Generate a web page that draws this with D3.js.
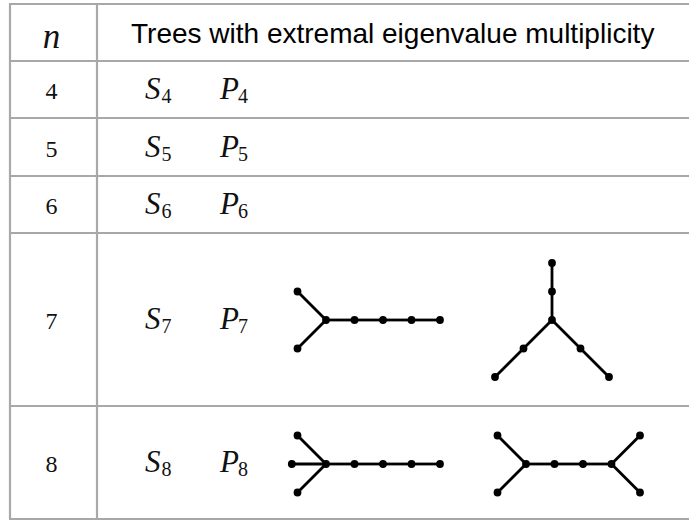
<!DOCTYPE html>
<html>
<head>
<meta charset="utf-8">
<style>
    body { margin: 0; background: #fff; }
    svg { display: block; }
    .grid { stroke: #a8a8a8; stroke-width: 2.2; }
    .num { font-family: 'Liberation Serif', 'Times New Roman', serif; font-size: 24px; fill: #111; }
    .math { font-family: 'Liberation Serif', 'Times New Roman', serif; font-style: italic; font-size: 31px; fill: #111; }
    .sub { font-style: normal; font-size: 20px; }
    .head { font-family: 'Liberation Sans', Arial, sans-serif; font-size: 28px; fill: #000; }
</style>
</head>
<body>
<svg width="689" height="521"></svg>
<script src="https://d3js.org/d3.v7.min.js"></script>
<script>
    // table content
    let orders = [4, 5, 6, 7, 8]
    let headerN = "n"
    let headerText = "Trees with extremal eigenvalue multiplicity"
    let named = ["S", "P"]

    // trees as drawings (node coords in edge-length units, first fork at 0,0)
    let trees = [
        {
            row: 7, at: 0,
            nodes: [[0, 0], [-1, -1], [-1, 1], [1, 0], [2, 0], [3, 0], [4, 0]],
            edges: [[0, 1], [0, 2], [0, 3], [3, 4], [4, 5], [5, 6]]
        },
        {
            row: 7, at: 1,
            nodes: [[0, 0], [0, -1], [0, -2], [-1, 1], [-2, 2], [1, 1], [2, 2]],
            edges: [[0, 1], [1, 2], [0, 3], [3, 4], [0, 5], [5, 6]]
        },
        {
            row: 8, at: 0,
            nodes: [[0, 0], [-1, -1], [-1.2, 0], [-1, 1], [1, 0], [2, 0], [3, 0], [4, 0]],
            edges: [[0, 1], [0, 2], [0, 3], [0, 4], [4, 5], [5, 6], [6, 7]]
        },
        {
            row: 8, at: 1,
            nodes: [[0, 0], [-1, -1], [-1, 1], [1, 0], [2, 0], [3, 0], [4, -1], [4, 1]],
            edges: [[0, 1], [0, 2], [0, 3], [3, 4], [4, 5], [5, 6], [5, 7]]
        }
    ]

    // layout
    let width = 689
    let colX = [10, 97]
    let rowY = [4, 61, 118, 176, 233, 406, 519]
    let unit = 28.5
    let slotX = { 7: [326, 552], 8: [326, 526] }   // x of the first fork in each slot

    let svg = d3.select("svg")

    let rowIndex = d3.scaleOrdinal()
        .domain(["head"].concat(orders))
        .range(d3.range(orders.length + 1))

    let midY = key => {
        let i = rowIndex(key)
        return (rowY[i] + rowY[i + 1]) / 2
    }

    // grid lines
    let grid = svg.append("g")
    grid.selectAll(".h")
        .data(rowY)
        .join("line")
        .attr("class", "grid")
        .attr("x1", colX[0] - 1)
        .attr("x2", width)
        .attr("y1", d => d)
        .attr("y2", d => d)
    grid.selectAll(".v")
        .data(colX)
        .join("line")
        .attr("class", "grid")
        .attr("x1", d => d)
        .attr("x2", d => d)
        .attr("y1", rowY[0])
        .attr("y2", rowY[rowY.length - 1])

    // header
    svg.append("text")
        .attr("class", "math")
        .attr("x", 51.5)
        .attr("y", 48)
        .attr("text-anchor", "middle")
        .style("font-size", "35px")
        .text(headerN)

    svg.append("text")
        .attr("class", "head")
        .attr("x", 131)
        .attr("y", midY("head") + 10)
        .text(headerText)

    // order column
    svg.append("g")
        .selectAll("text")
        .data(orders)
        .join("text")
        .attr("class", "num")
        .attr("x", 51.5)
        .attr("y", d => midY(d) + 9.5)
        .attr("text-anchor", "middle")
        .text(d => d)

    // S_n and P_n
    let nameX = d3.scalePoint().domain(named).range([145, 220])
    orders.forEach(n => {
        svg.append("g")
            .selectAll("text")
            .data(named)
            .join("text")
            .attr("class", "math")
            .attr("x", d => nameX(d))
            .attr("y", midY(n) + 9.5)
            .each(function (d) {
                let t = d3.select(this)
                t.append("tspan").text(d)
                t.append("tspan")
                    .attr("class", "sub")
                    .attr("dy", 4)
                    .attr("dx", d == "S" ? 1 : -1)
                    .text(n)
            })
    })

    // trees
    trees.forEach(tree => {
        let cx = slotX[tree.row][tree.at]
        let cy = midY(tree.row) + (tree.row == 8 ? 1.5 : 0.5)
        let x = d3.scaleLinear().domain([0, 1]).range([cx, cx + unit])
        let y = d3.scaleLinear().domain([0, 1]).range([cy, cy + unit])
        let g = svg.append("g")
        g.selectAll("line")
            .data(tree.edges)
            .join("line")
            .attr("x1", d => x(tree.nodes[d[0]][0]))
            .attr("y1", d => y(tree.nodes[d[0]][1]))
            .attr("x2", d => x(tree.nodes[d[1]][0]))
            .attr("y2", d => y(tree.nodes[d[1]][1]))
            .style("stroke", "#000")
            .style("stroke-width", 2.8)
        g.selectAll("circle")
            .data(tree.nodes)
            .join("circle")
            .attr("cx", d => x(d[0]))
            .attr("cy", d => y(d[1]))
            .attr("r", 3.9)
            .style("fill", "#000")
    })
</script>
</body>
</html>
